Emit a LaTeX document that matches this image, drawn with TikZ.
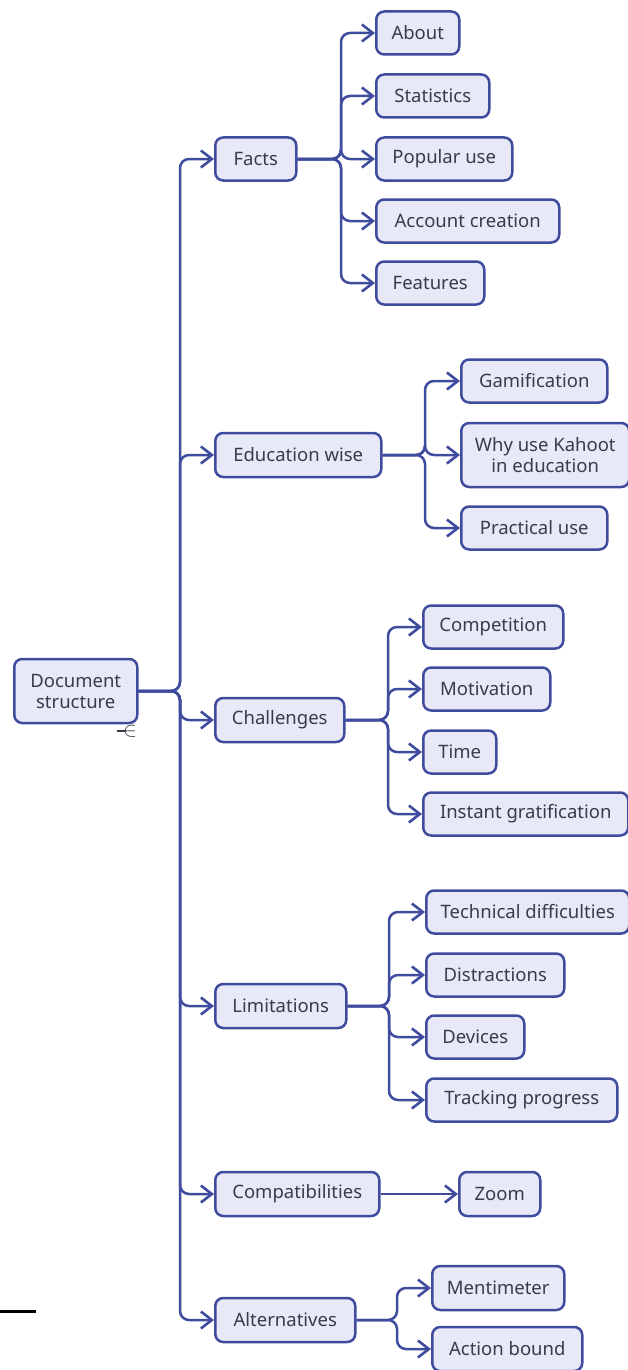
\documentclass[tikz,border=0pt]{standalone}
\usepackage{fontspec}
\setmainfont{Noto Sans}
\usetikzlibrary{arrows.meta}
\definecolor{edge}{HTML}{3F4C9E}
\definecolor{boxfill}{HTML}{E7E9F8}
\definecolor{txt}{HTML}{3A3B45}
\tikzset{
 box/.style={draw=edge, fill=boxfill, line width=2.5pt, rounded corners=8pt, minimum height=43pt, inner sep=2pt, anchor=west, text=txt, font=\fontsize{18.5}{21}\selectfont, align=center},
 conn/.style={draw=edge, line width=2.5pt, rounded corners=9pt, -{Straight Barb[length=11pt,width=17pt,line width=2.6pt]}},
}
\begin{document}
\begin{tikzpicture}[x=1pt,y=-1pt]
\useasboundingbox (0,0) rectangle (628,1370);
% root
\node[box, minimum width=123pt, minimum height=64pt] (root) at (13,691) {Document\\structure};
% level 1
\node[box, minimum width=81pt] (facts) at (214,159) {Facts};
\node[box, minimum width=166pt, minimum height=44pt] (edu) at (214,455) {Education wise};
\node[box, minimum width=129pt, minimum height=44pt] (chal) at (214,720) {Challenges};
\node[box, minimum width=131pt, minimum height=44pt] (lim) at (214,1006) {Limitations};
\node[box, minimum width=164pt, minimum height=44pt] (compat) at (214,1194) {Compatibilities};
\node[box, minimum width=140pt, minimum height=44pt] (alt) at (214,1320) {Alternatives};
% facts children
\node[box, minimum width=83pt] (about) at (375,33) {About};
\node[box, minimum width=113pt] (stats) at (375,96) {Statistics};
\node[box, minimum width=136pt] (popular) at (375,159) {Popular use};
\node[box, minimum width=183pt] (account) at (375,221) {Account creation};
\node[box, minimum width=108pt] (features) at (375,283) {Features};
% education children
\node[box, minimum width=146pt] (gamif) at (460,381) {Gamification};
\node[box, minimum width=168pt, minimum height=64pt] (why) at (460,455) {Why use Kahoot\\in education};
\node[box, minimum width=146pt] (practical) at (460,528) {Practical use};
% challenges children
\node[box, minimum width=140pt] (competition) at (422,627) {Competition};
\node[box, minimum width=127pt] (motivation) at (422,689) {Motivation};
\node[box, minimum width=73pt] (time) at (422,752) {Time};
\node[box, minimum width=205pt] (instant) at (422,814) {Instant gratification};
% limitations children
\node[box, minimum width=203pt] (technical) at (425,912) {Technical difficulties};
\node[box, minimum width=138pt] (distractions) at (425,975) {Distractions};
\node[box, minimum width=98pt] (devices) at (425,1037) {Devices};
\node[box, minimum width=191pt] (tracking) at (425,1100) {Tracking progress};
% compat child
\node[box, minimum width=81pt, minimum height=44pt] (zoom) at (458,1194) {Zoom};
% alternatives children
\node[box, minimum width=132pt, minimum height=44pt] (menti) at (431,1288) {Mentimeter};
\node[box, minimum width=150pt, minimum height=44pt] (action) at (431,1349) {Action bound};
% bus coordinates
\coordinate (trunk) at (180,691);
\coordinate (fbus) at (341,159);
\coordinate (ebus) at (425,455);
\coordinate (cbus) at (388,720);
\coordinate (lbus) at (389,1006);
\coordinate (abus) at (397,1320);
% trunk connectors
\foreach \n in {facts,edu,chal,lim,compat,alt}
  \draw[conn] (root.east) -- (trunk) |- (\n.west);
\foreach \n in {about,stats,popular,account,features}
  \draw[conn] (facts.east) -- (fbus) |- (\n.west);
\foreach \n in {gamif,why,practical}
  \draw[conn] (edu.east) -- (ebus) |- (\n.west);
\foreach \n in {competition,motivation,time,instant}
  \draw[conn] (chal.east) -- (cbus) |- (\n.west);
\foreach \n in {technical,distractions,devices,tracking}
  \draw[conn] (lim.east) -- (lbus) |- (\n.west);
\draw[conn] (compat.east) -- (zoom.west);
\foreach \n in {menti,action}
  \draw[conn] (alt.east) -- (abus) |- (\n.west);
% small collapse mark under root
\coordinate (m1) at (117,731);
\coordinate (m2) at (126,731);
\draw[txt, line width=1.5pt] (m1) -- (m2);
\node[text=txt, inner sep=0pt, font=\fontsize{20}{20}\selectfont] (mark) at (130,731) {$\in$};
% black line bottom left
\coordinate (b1) at (0,1311);
\coordinate (b2) at (36,1311);
\draw[black, line width=3pt] (b1) -- (b2);
\end{tikzpicture}
\end{document}
